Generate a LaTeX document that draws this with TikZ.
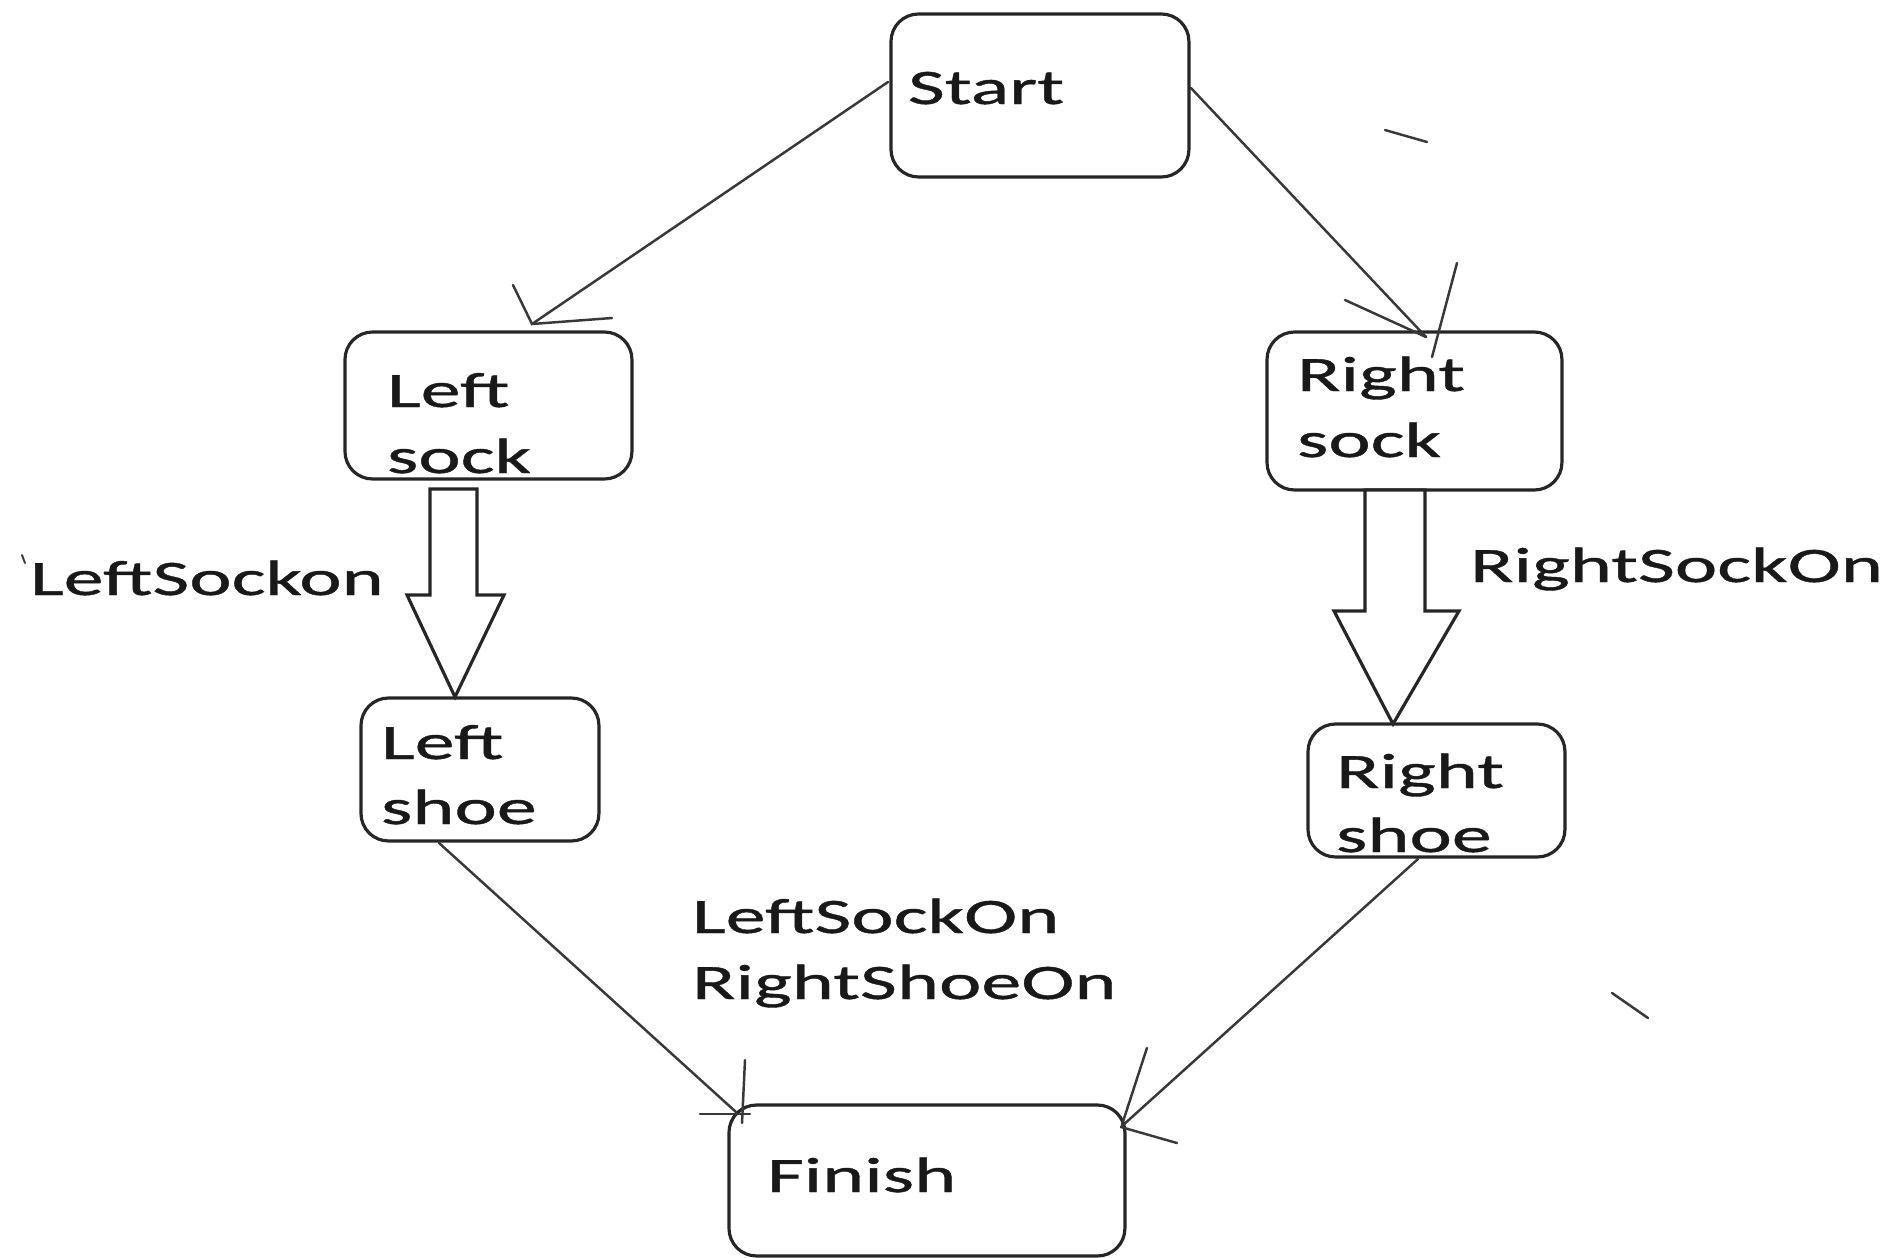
\documentclass[tikz,border=0pt]{standalone}
\usepackage{fontspec}
\usetikzlibrary{calc}
\newfontfamily\lblfont[FakeStretch=1.62,FakeBold=0.8]{Carlito}
\begin{document}
\begin{tikzpicture}[x=0.02cm,y=-0.02cm,
  box/.style={draw=black!85, line width=1.8pt, rounded corners=0.55cm,
    inner sep=0pt, outer sep=0pt, anchor=north west},
  txt/.style={font=\lblfont\fontsize{28.2}{37.6}\selectfont, anchor=base west,
    inner sep=0pt, outer sep=0pt, text=black!90},
  conn/.style={draw=black!78, line width=1.4pt, line cap=round},
  fat/.style={draw=black!85, line width=1.8pt, fill=white, line join=miter}]
\useasboundingbox[fill=white] (0,0) rectangle (1887,1258);

% boxes
\node[box, minimum width=5.96cm, minimum height=3.26cm] (start)  at (891,14)  {};
\node[box, minimum width=5.74cm, minimum height=2.94cm] (lsock)  at (345,332) {};
\node[box, minimum width=5.90cm, minimum height=3.16cm] (rsock)  at (1267,332) {};
\node[box, minimum width=4.76cm, minimum height=2.86cm] (lshoe)  at (361,698) {};
\node[box, minimum width=5.14cm, minimum height=2.66cm] (rshoe)  at (1308,724) {};
\node[box, minimum width=7.92cm, minimum height=3.02cm] (finish) at (729,1105) {};

% box texts
\node[txt] (tstart)  at (908,104)  {Start};
\node[txt] (tlsocka) at (387,407)  {Left};
\node[txt] (tlsockb) at (387,473)  {sock};
\node[txt] (tlshoea) at (381,759)  {Left};
\node[txt] (tlshoeb) at (381,824)  {shoe};
\node[txt] (trsocka) at (1297,391) {Right};
\node[txt] (trsockb) at (1297,457) {sock};
\node[txt] (trshoea) at (1336,788) {Right};
\node[txt] (trshoeb) at (1336,852) {shoe};
\node[txt] (tfinish) at (767,1192) {Finish};

% free labels
\node[txt] (llso)  at (30,595)   {LeftSockon};
\coordinate (tk1) at (22,555);
\draw[conn, line width=1.1pt] (tk1) -- ++(3,8);
\node[txt] (lrso)  at (1470,582) {RightSockOn};
\node[txt] (lmid1) at (692,933)  {LeftSockOn};
\node[txt] (lmid2) at (692,999)  {RightShoeOn};

% thick arrows
\coordinate (lat) at ($(lsock.south west)+(110,10)$);
\coordinate (lah) at ($(lshoe.north west)+(94,-1)$);
\draw[fat] ($(lat)+(-25,0)$) -- ($(lat)+(22,0)$) -- ($(lat)+(22,106)$) -- ($(lat)+(49,106)$)
  -- (lah) -- ($(lat)+(-48,106)$) -- ($(lat)+(-25,106)$) -- cycle;
\coordinate (rat) at ($(rsock.south west)+(128,0)$);
\coordinate (rah) at ($(rshoe.north west)+(85,0)$);
\draw[fat] ($(rat)+(-30,0)$) -- ($(rat)+(30,0)$) -- ($(rat)+(30,121)$) -- ($(rat)+(64,121)$)
  -- (rah) -- ($(rat)+(-61,121)$) -- ($(rat)+(-30,121)$) -- cycle;

% thin connectors with hand-drawn barbs
\coordinate (t1) at ($(lsock.north west)+(187,-8)$);
\draw[conn] ($(start.north west)+(-3,68)$) -- (t1);
\draw[conn] ($(t1)+(-19,-39)$) -- (t1) -- ($(t1)+(80,-6)$);

\coordinate (t2) at ($(rsock.north west)+(159,5)$);
\draw[conn] ($(start.north east)+(2,74)$) -- (t2);
\draw[conn] ($(t2)+(-81,-37)$) -- (t2);
\draw[conn] ($(t2)+(31,-74)$) -- ($(t2)+(6,20)$);

\coordinate (t3) at ($(finish.north west)+(7,7)$);
\draw[conn] ($(lshoe.south west)+(78,2)$) -- (t3);
\draw[conn] ($(t3)+(9,-52)$) -- ($(t3)+(6,11)$);
\draw[conn] ($(t3)+(-36,2)$) -- ($(t3)+(14,2)$);

\coordinate (t4) at ($(finish.north east)+(-4,22)$);
\draw[conn] ($(rshoe.south west)+(110,2)$) -- (t4);
\draw[conn] ($(t4)+(26,-79)$) -- ($(t4)+(1,-2)$);
\draw[conn] (t4) -- ($(t4)+(56,16)$);

% stray marks
\coordinate (sm1) at (1385,130);
\draw[conn] (sm1) -- ++(42,12);
\coordinate (sm2) at (1612,993);
\draw[conn] (sm2) -- ++(36,25);
\end{tikzpicture}
\end{document}
